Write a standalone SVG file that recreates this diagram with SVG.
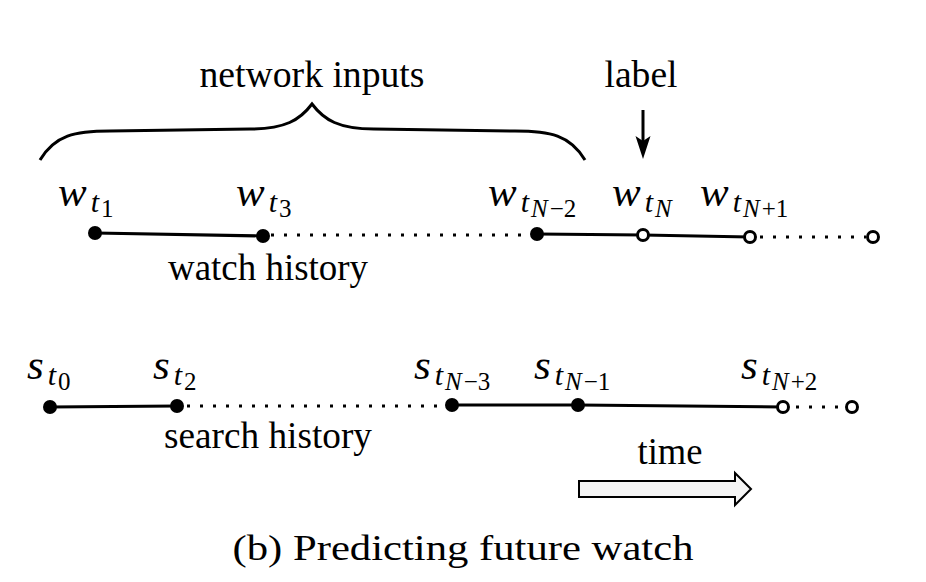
<svg xmlns="http://www.w3.org/2000/svg" width="926" height="582" viewBox="0 0 926 582">
<defs>
<style>
.txt{font-family:"Liberation Serif","DejaVu Serif",serif;font-size:37px;fill:#000}
.cap{font-family:"Liberation Serif","DejaVu Serif",serif;font-size:35px;fill:#000}
.m{font-family:"Liberation Serif","DejaVu Serif",serif;font-style:italic;fill:#000}
.b{font-size:43px}
.s1{font-size:30px}
.s2{font-size:25px}
.up{font-style:normal}
.solid{stroke:#000;stroke-width:3;fill:none}
.dot{stroke:#000;stroke-width:3;fill:none;stroke-dasharray:3 10}
.fn{fill:#000}
.on{fill:#fff;stroke:#000;stroke-width:3}
</style>
</defs>
<rect width="926" height="582" fill="#fff"/>

<g id="brace">
<path class="solid" d="M40,160 C55,135 75,131 110,131 L250,129 C285,129 300,120 312,104 C324,120 339,129 374,129 L515,131 C550,131 570,135 585,160"/>
<text class="txt" x="312" y="87" text-anchor="middle" textLength="225" lengthAdjust="spacingAndGlyphs">network inputs</text>
</g>

<g id="label">
<text class="txt" x="641" y="87" text-anchor="middle" textLength="73" lengthAdjust="spacingAndGlyphs">label</text>
</g>

<g id="connectors">
<line class="solid" x1="643" y1="110" x2="643" y2="145"/>
<path d="M643,159 L635.5,136 L643,141 L650.5,136 Z" fill="#000"/>
<polyline class="solid" points="95,233 263,236"/>
<line class="dot" x1="271" y1="235" x2="532" y2="235"/>
<polyline class="solid" points="537,234 643,235 750,237"/>
<line class="dot" x1="760" y1="237" x2="866" y2="237"/>
<polyline class="solid" points="50,407 177,406"/>
<line class="dot" x1="187" y1="406" x2="446" y2="406"/>
<polyline class="solid" points="452,405 578,405 783,407"/>
<line class="dot" x1="796" y1="407" x2="845" y2="407"/>
</g>

<g id="w1"><circle class="fn" cx="95" cy="233" r="7"/><text class="m" x="58" y="206"><tspan class="b">w</tspan><tspan class="s1" dx="4" dy="6">t</tspan><tspan class="s2 up" dx="2" dy="5">1</tspan></text></g>
<g id="w3"><circle class="fn" cx="263" cy="236" r="7"/><text class="m" x="236" y="206"><tspan class="b">w</tspan><tspan class="s1" dx="4" dy="6">t</tspan><tspan class="s2 up" dx="2" dy="5">3</tspan></text></g>
<g id="wN-2"><circle class="fn" cx="537" cy="234" r="7"/><text class="m" x="488" y="206"><tspan class="b">w</tspan><tspan class="s1" dx="4" dy="6">t</tspan><tspan class="s2" dx="2" dy="5">N</tspan><tspan class="s2 up" dx="2">−2</tspan></text></g>
<g id="wN"><circle class="on" cx="643" cy="235" r="5.5"/><text class="m" x="612" y="206"><tspan class="b">w</tspan><tspan class="s1" dx="4" dy="6">t</tspan><tspan class="s2" dx="2" dy="5">N</tspan></text></g>
<g id="wN+1"><circle class="on" cx="750" cy="237" r="5.5"/><text class="m" x="700" y="206"><tspan class="b">w</tspan><tspan class="s1" dx="4" dy="6">t</tspan><tspan class="s2" dx="2" dy="5">N</tspan><tspan class="s2 up" dx="2">+1</tspan></text></g>
<g id="wEnd"><circle class="on" cx="873" cy="237" r="5.5"/></g>

<g id="watchHistory"><text class="txt" x="268" y="280" text-anchor="middle" textLength="200" lengthAdjust="spacingAndGlyphs">watch history</text></g>

<g id="s0"><circle class="fn" cx="50" cy="407" r="7"/><text class="m" x="27" y="379"><tspan class="b">s</tspan><tspan class="s1" dx="4" dy="6">t</tspan><tspan class="s2 up" dx="2" dy="5">0</tspan></text></g>
<g id="s2"><circle class="fn" cx="177" cy="406" r="7"/><text class="m" x="153" y="379"><tspan class="b">s</tspan><tspan class="s1" dx="4" dy="6">t</tspan><tspan class="s2 up" dx="2" dy="5">2</tspan></text></g>
<g id="sN-3"><circle class="fn" cx="452" cy="405" r="7"/><text class="m" x="414" y="379"><tspan class="b">s</tspan><tspan class="s1" dx="4" dy="6">t</tspan><tspan class="s2" dx="2" dy="5">N</tspan><tspan class="s2 up" dx="2">−3</tspan></text></g>
<g id="sN-1"><circle class="fn" cx="578" cy="405" r="7"/><text class="m" x="534" y="379"><tspan class="b">s</tspan><tspan class="s1" dx="4" dy="6">t</tspan><tspan class="s2" dx="2" dy="5">N</tspan><tspan class="s2 up" dx="2">−1</tspan></text></g>
<g id="sN+2"><circle class="on" cx="783" cy="407" r="5.5"/><text class="m" x="741" y="379"><tspan class="b">s</tspan><tspan class="s1" dx="4" dy="6">t</tspan><tspan class="s2" dx="2" dy="5">N</tspan><tspan class="s2 up" dx="2">+2</tspan></text></g>
<g id="sEnd"><circle class="on" cx="852" cy="407" r="5.5"/></g>

<g id="searchHistory"><text class="txt" x="268" y="448" text-anchor="middle" textLength="208" lengthAdjust="spacingAndGlyphs">search history</text></g>

<g id="time">
<text class="txt" x="670" y="464" text-anchor="middle" textLength="65" lengthAdjust="spacingAndGlyphs">time</text>
<path d="M579,481 L735,481 L735,473 L751,489 L735,505 L735,497 L579,497 Z" fill="#f5f5f5" stroke="#000" stroke-width="2"/>
</g>

<g id="caption"><text class="cap" x="463" y="560" text-anchor="middle" textLength="461" lengthAdjust="spacingAndGlyphs">(b) Predicting future watch</text></g>
</svg>
